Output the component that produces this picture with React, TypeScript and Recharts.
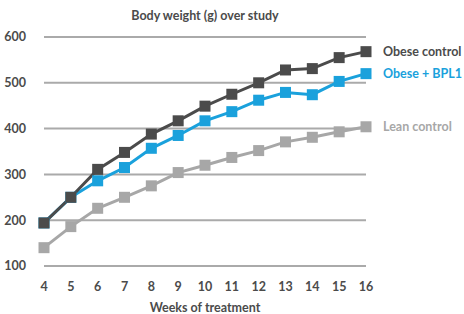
import React from "react";
import { LineChart, Line, XAxis, YAxis, CartesianGrid, LabelList } from "recharts";

const weeks = [4, 5, 6, 7, 8, 9, 10, 11, 12, 13, 14, 15, 16];
const obeseControl = [194, 250, 311, 348, 388, 417, 449, 475, 500, 528, 531, 555, 568];
const obeseBPL1 = [194, 250, 286, 315, 357, 385, 417, 437, 462, 479, 474, 503, 520];
const leanControl = [140, 186, 226, 250, 275, 304, 320, 337, 352, 371, 381, 393, 404];
const yTicks = [100, 200, 300, 400, 500, 600];
const seriesNames = ["Obese control", "Obese + BPL1", "Lean control"];

const data = weeks.map((w, i) => ({
  week: w,
  oc: obeseControl[i],
  bp: obeseBPL1[i],
  lc: leanControl[i],
}));

const FONT = "Lato, 'Open Sans', sans-serif";
const DARK = "#4b4b4b";
const BLUE = "#1aa1dc";
const LIGHT = "#a7a7a7";

const Square = (color: string) => (props: any) => {
  const { cx, cy } = props;
  if (cx == null || cy == null) return <g />;
  return <rect x={cx - 5.5} y={cy - 5.5} width={11} height={11} fill={color} />;
};

const endLabel = (name: string, color: string) => (props: any) => {
  const { x, y, index } = props;
  if (index !== weeks.length - 1) return null;
  return (
    <text x={x + 17} y={y + 4.5} fill={color} fontFamily={FONT} fontWeight={700} fontSize={12.5}>
      {name}
    </text>
  );
};

export default function App() {
  return (
    <div style={{ position: "absolute", left: 0, top: 0, width: 464, height: 314, background: "#fff", fontFamily: FONT }}>
      <div
        style={{
          position: "absolute",
          top: 8,
          left: 0,
          width: 410,
          textAlign: "center",
          fontSize: 12.5,
          fontWeight: 700,
          color: DARK,
        }}
      >
        Body weight (g) over study
      </div>
      <LineChart
        width={464}
        height={314}
        data={data}
        margin={{ top: 37, right: 98, bottom: 0, left: 0 }}
      >
        <CartesianGrid vertical={false} stroke="#aaaaaa" strokeWidth={2} />
        <XAxis
          dataKey="week"
          type="number"
          domain={[4, 16]}
          ticks={weeks}
          axisLine={false}
          tickLine={false}
          tickMargin={10}
          height={48}
          tick={{ fill: DARK, fontSize: 12.5, fontWeight: 700, fontFamily: FONT }}
          label={{
            value: "Weeks of treatment",
            position: "insideBottom",
            offset: 2,
            fill: DARK,
            fontSize: 12.5,
            fontWeight: 700,
            fontFamily: FONT,
          }}
        />
        <YAxis
          domain={[100, 600]}
          ticks={yTicks}
          axisLine={false}
          tickLine={false}
          width={44}
          tickMargin={12}
          tick={{ fill: DARK, fontSize: 12.5, fontWeight: 700, fontFamily: FONT }}
        />
        <Line
          dataKey="lc"
          stroke={LIGHT}
          strokeWidth={3}
          dot={Square(LIGHT)}
          isAnimationActive={false}
        >
          <LabelList dataKey="lc" content={endLabel(seriesNames[2], LIGHT)} />
        </Line>
        <Line
          dataKey="bp"
          stroke={BLUE}
          strokeWidth={3}
          dot={Square(BLUE)}
          isAnimationActive={false}
        >
          <LabelList dataKey="bp" content={endLabel(seriesNames[1], BLUE)} />
        </Line>
        <Line
          dataKey="oc"
          stroke={DARK}
          strokeWidth={3}
          dot={Square(DARK)}
          isAnimationActive={false}
        >
          <LabelList dataKey="oc" content={endLabel(seriesNames[0], DARK)} />
        </Line>
      </LineChart>
    </div>
  );
}
